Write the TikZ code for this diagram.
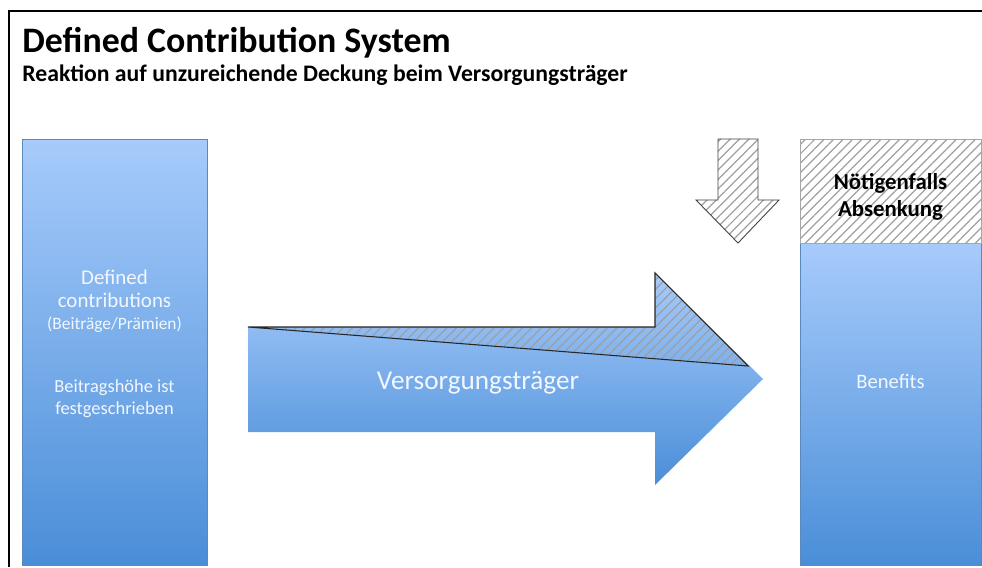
\documentclass[tikz,border=0pt]{standalone}
\usepackage{fontspec}
\setmainfont{Carlito}
\usetikzlibrary{patterns.meta}
\definecolor{boxtop}{HTML}{A7CBFB}
\definecolor{boxbot}{HTML}{4A8ED8}
\definecolor{boxtext}{HTML}{F2F7FF}

\begin{document}
\begin{tikzpicture}[
    x=0.02cm, y=-0.02cm,
    block/.style={rectangle, inner sep=0pt, top color=boxtop, bottom color=boxbot, draw=boxbot!70!gray, line width=0.3pt},
    hatch/.style={pattern={Lines[angle=45, distance=3.8pt, line width=0.7pt]}, pattern color=gray!75},
    boxlabel/.style={text=boxtext, align=center, inner sep=0pt}
]
    \useasboundingbox (0,0) rectangle (982,567);

    % Frame
    \draw[line width=1.2pt] (9,567) -- (9,11) -- (982,11);

    % Heading
    \node[anchor=base west, inner sep=0pt, font=\fontsize{20.4}{24}\selectfont\bfseries] (title) at (22,53) {Defined Contribution System};
    \node[anchor=base west, inner sep=0pt, font=\fontsize{13.5}{16}\selectfont\bfseries] (subtitle) at (22,82) {Reaktion auf unzureichende Deckung beim Versorgungsträger};

    % Contributions
    \node[block, minimum width=3.7cm, minimum height=8.52cm] (contrib) at (114.5,352) {};
    \node[boxlabel, font=\fontsize{11.9}{13}\selectfont] (dc) at (114.5,301) {Defined\\contributions\\[-0.5pt]{\fontsize{9.9}{11}\selectfont(Beiträge/Prämien)}};
    \node[boxlabel, font=\fontsize{10.5}{12.5}\selectfont] (fix) at (114.5,399) {Beitragshöhe ist\\festgeschrieben};

    % Versorgungstraeger arrow
    \shade[top color=boxtop, bottom color=boxbot] (248,327) -- (655,327) -- (655,273) -- (763,379) -- (655,485) -- (655,432) -- (248,432) -- cycle;
    \draw[hatch, draw=black!85, line width=0.6pt] (248,327) -- (655,327) -- (655,273) -- (748,366) -- cycle;
    \node[boxlabel, font=\fontsize{15.5}{18}\selectfont] (vt) at (478,383) {Versorgungsträger};

    % Benefits
    \node[block, minimum width=3.62cm, minimum height=6.44cm] (benefits) at (890.5,404) {};
    \node[boxlabel, font=\fontsize{11.7}{13}\selectfont] (ben) at (890.5,381) {Benefits};
    \node[rectangle, hatch, draw=gray!70, line width=0.4pt, minimum width=3.62cm, minimum height=2.08cm] (cut) at (890.5,191) {};
    \node[align=center, inner sep=0pt, font=\fontsize{13}{15}\selectfont\bfseries] (cuttext) at (890.5,197) {Nötigenfalls\\Absenkung};

    % Down arrow
    \draw[hatch, draw=black!75, line width=0.5pt] (718,139) -- (758,139) -- (758,200) -- (779,200) -- (738,243) -- (696,200) -- (718,200) -- cycle;
\end{tikzpicture}
\end{document}
